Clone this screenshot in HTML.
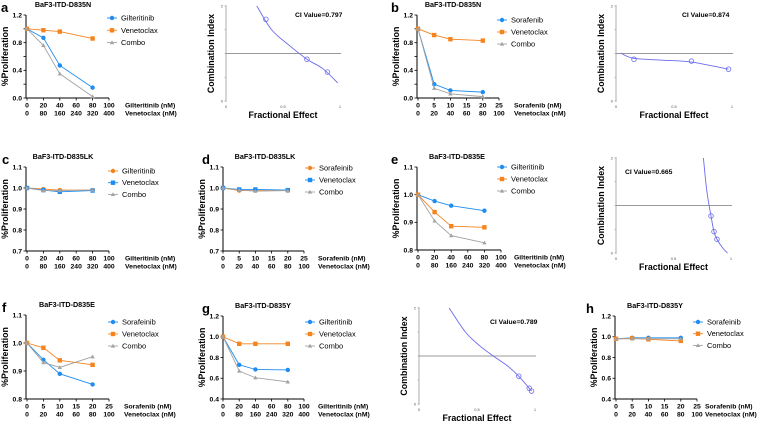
<!DOCTYPE html>
<html><head><meta charset="utf-8"><style>
html,body{margin:0;padding:0;background:#fff;}
svg{display:block;font-family:"Liberation Sans",Arial,sans-serif;}
</style></head><body>
<svg id="fig" width="757" height="424" viewBox="0 0 757 424" xmlns="http://www.w3.org/2000/svg"></svg>
<script>
// ---- data arrays ----
const dosesA=[0,20,40,80]; const gilA=[1.0,0.87,0.47,0.15]; const venA=[1.0,0.98,0.96,0.86]; const comA=[1.0,0.76,0.35,0.02];
const dosesB=[0,5,10,20]; const sorB=[1.0,0.20,0.11,0.085]; const venB=[1.0,0.91,0.85,0.83]; const comB=[1.0,0.14,0.06,0.02];
const dosesC=[0,20,40,80]; const gilC=[1.0,0.995,0.99,0.99]; const venC=[1.0,0.99,0.982,0.988]; const comC=[1.0,0.988,0.988,0.99];
const dosesD=[0,5,10,20]; const sorD=[1.0,0.988,0.988,0.988]; const venD=[1.0,0.993,0.993,0.99]; const comD=[1.0,0.99,0.985,0.988];
const dosesE=[0,20,40,80]; const gilE=[1.0,0.977,0.96,0.942]; const venE=[1.0,0.937,0.886,0.882]; const comE=[1.0,0.905,0.852,0.826];
const dosesF=[0,5,10,20]; const sorF=[1.0,0.94,0.89,0.852]; const venF=[1.0,0.983,0.938,0.922]; const comF=[1.0,0.93,0.913,0.951];
const dosesG=[0,20,40,80]; const gilG=[1.0,0.73,0.685,0.68]; const venG=[1.0,0.932,0.932,0.932]; const comG=[1.0,0.67,0.605,0.565];
const dosesH=[0,5,10,20]; const sorH=[0.98,0.99,0.99,0.99]; const venH=[0.98,0.985,0.975,0.96]; const comH=[0.98,0.98,0.98,0.98];
const ticksGil=["0","20","40","60","80","100"]; const ticksVen400=["0","80","160","240","320","400"];
const ticksSor=["0","5","10","15","20","25"]; const ticksVen100=["0","20","40","60","80","100"];
const ciFaA=[0.27,0.4,0.55,0.71,0.85,0.98]; const ciValA=[2.0,1.5,1.18,0.88,0.68,0.38];
const ptFaA=[0.35,0.71,0.89]; const ptCiA=[1.72,0.88,0.61];
const ciFaB=[0.04,0.15,0.4,0.65,0.97]; const ciValB=[1.01,0.9,0.86,0.82,0.67];
const ptFaB=[0.155,0.65,0.97]; const ptCiB=[0.88,0.84,0.67];
const ciFaE=[0.76,0.79,0.826,0.852,0.878,0.93,0.97]; const ciValE=[2.0,1.3,0.78,0.45,0.29,0.1,0.0];
const ptFaE=[0.826,0.852,0.878]; const ptCiE=[0.78,0.45,0.29];
const ciFaG=[0.26,0.4,0.52,0.64,0.76,0.86,0.97]; const ciValG=[2.0,1.5,1.22,1.0,0.8,0.58,0.27];
const ptFaG=[0.86,0.95,0.97]; const ptCiG=[0.58,0.33,0.27];

const NS="http://www.w3.org/2000/svg";
const svg=document.getElementById('fig');
const BLUE="#1e8cf0",ORANGE="#f5841f",GRAY="#a3a3a3",PURP="#6b6bee";
function el(tag,attrs,parent,txt){const e=document.createElementNS(NS,tag);for(const k in attrs)e.setAttribute(k,attrs[k]);if(txt!==undefined)e.textContent=txt;(parent||svg).appendChild(e);return e;}
function smooth(P){
  let d=`M${P[0][0]},${P[0][1]}`;
  for(let i=0;i<P.length-1;i++){
    const p0=P[Math.max(0,i-1)],p1=P[i],p2=P[i+1],p3=P[Math.min(P.length-1,i+2)];
    const c1=[p1[0]+(p2[0]-p0[0])/6,p1[1]+(p2[1]-p0[1])/6];
    const c2=[p2[0]-(p3[0]-p1[0])/6,p2[1]-(p3[1]-p1[1])/6];
    d+=` C${c1[0]},${c1[1]} ${c2[0]},${c2[1]} ${p2[0]},${p2[1]}`;
  }
  return d;
}
function marker(g,shape,x,y,c){
  let m;
  if(shape==='c') m=el('circle',{cx:x,cy:y,r:2.2,fill:c},g);
  else if(shape==='s') m=el('rect',{x:x-2.2,y:y-2.2,width:4.4,height:4.4,fill:c},g);
  else m=el('polygon',{points:`${x},${y-2.2} ${x+2.2},${y+1.6} ${x-2.2},${y+1.6}`,fill:c},g);
  
  
}
function dose(p){
  const g=el('g',{});
  
  
  const xs=v=>p.x0+(v-0)/(p.xmax)*(p.x1-p.x0);
  const ys=v=>p.yb-(v-p.ymin)/(p.ymax-p.ymin)*(p.yb-p.yt);
  const t=el('text',{x:p.lx,y:p.yt-3,'font-size':13,'font-weight':'bold'},g,p.letter);
  
  const ti=el('text',{x:p.tx,y:p.yt-8,'font-size':7.2,'font-weight':'bold','text-anchor':'middle'},g,p.title);
  
  el('line',{x1:p.ax,y1:p.yt,x2:p.ax,y2:p.yb,stroke:'#000','stroke-width':1},g);
  el('line',{x1:p.ax,y1:p.yb,x2:p.x1,y2:p.yb,stroke:'#000','stroke-width':1},g);
  for(let i=0;i<=p.nMinor;i++){const v=p.ymin+i*(p.ymax-p.ymin)/p.nMinor;const y=ys(v);
    el('line',{x1:p.ax-2.5,y1:y,x2:p.ax,y2:y,stroke:'#000','stroke-width':0.8},g);}
  p.yTicks.forEach(v=>{const tt=el('text',{x:p.ax-4,y:ys(parseFloat(v))+2.3,'font-size':6.8,'font-weight':'bold','text-anchor':'end'},g,v);
    });
  const yl=el('text',{transform:`translate(${p.ax-18},${(p.yt+p.yb)/2}) rotate(-90)`,'font-size':8.8,'font-weight':'bold','text-anchor':'middle'},g,'%Proliferation');
  
  p.xt1.forEach((s,i)=>{const x=p.x0+i*(p.x1-p.x0)/(p.xt1.length-1);
    el('line',{x1:x,y1:p.yb,x2:x,y2:p.yb+2.5,stroke:'#000','stroke-width':0.8},g);
    const a=el('text',{x:x,y:p.yb+9.5,'font-size':6.8,'font-weight':'bold','text-anchor':'middle'},g,s);
    
    const b=el('text',{x:x,y:p.yb+17.5,'font-size':6.8,'font-weight':'bold','text-anchor':'middle'},g,p.xt2[i]);
    });
  const u1=el('text',{x:p.ux,y:p.yb+9.5,'font-size':6.8,'font-weight':'bold'},g,p.u1);
  
  const u2=el('text',{x:p.ux,y:p.yb+17.5,'font-size':6.8,'font-weight':'bold'},g,p.u2);
  
  p.series.forEach((s,k)=>{
    const pts=p.doses.map((d,i)=>xs(d)+','+ys(s.v[i])).join(' ');
    const pl=el('polyline',{points:pts,fill:'none',stroke:s.c,'stroke-width':0.9},g);
    
    p.doses.forEach((d,i)=>marker(g,s.m,xs(d),ys(s.v[i]),s.c));
    const ly=p.ly+k*p.lsp;
    el('line',{x1:p.lmx-5,y1:ly,x2:p.lmx+5,y2:ly,stroke:s.c,'stroke-width':0.9},g);
    marker(g,s.m,p.lmx,ly,s.c);
    const lt=el('text',{x:p.lmx+9,y:ly+2.5,'font-size':7.5},g,s.n);
    
  });
}
function ci(p){
  const g=el('g',{});
  
  
  const xs=v=>p.x0+v*(p.x1-p.x0);
  const ys=v=>p.yb-v/2*(p.yb-p.yt);
  el('line',{x1:p.x0,y1:p.yt-1,x2:p.x0,y2:p.yb+1,stroke:'#999','stroke-width':0.8},g);
  el('line',{x1:p.x0,y1:ys(1),x2:p.x1+1,y2:ys(1),stroke:'#999','stroke-width':0.9},g);
  [2,1.5,1,0.5,0].forEach(a=>{el('line',{x1:p.x0-1.5,y1:ys(a),x2:p.x0,y2:ys(a),stroke:'#999','stroke-width':0.6},g);});
  el('text',{x:p.x0-3,y:ys(2)+1.5,'font-size':4,'text-anchor':'end',fill:'#555'},g,'2');
  el('text',{x:p.x0-3,y:ys(0)+1.5,'font-size':4,'text-anchor':'end',fill:'#555'},g,'0');
  [['0',0],['0.5',0.5],['1',1]].forEach(a=>{el('text',{x:xs(a[1]),y:p.yb+7,'font-size':4,'text-anchor':'middle',fill:'#555'},g,a[0]);});
  const P=p.fa.map((f,i)=>[xs(f),ys(p.ci[i])]);
  const cl=el('path',{d:smooth(P),fill:'none',stroke:PURP,'stroke-width':0.9},g);
  
  p.pf.forEach((f,i)=>{const c=el('circle',{cx:xs(f),cy:ys(p.pc[i]),r:2.3,fill:'none',stroke:PURP,'stroke-width':0.8},g);
    });
  const v=el('text',{x:p.vx,y:p.vy,'font-size':6.8,'font-weight':'bold'},g,p.val);
  
  const yl=el('text',{transform:`translate(${p.x0-12},${(p.yt+p.yb)/2}) rotate(-90)`,'font-size':8.8,'font-weight':'bold','text-anchor':'middle'},g,'Combination Index');
  
  const xl=el('text',{x:(p.x0+p.x1)/2,y:p.yb+17,'font-size':8.8,'font-weight':'bold','text-anchor':'middle'},g,'Fractional Effect');
  
}
const GIL=(v,c,m)=>({n:'Gilteritinib',v:v,c:c||BLUE,m:m||'c'});
const SOR=(v,c,m)=>({n:'Sorafeinib',v:v,c:c||BLUE,m:m||'c'});
const VEN=(v,c,m)=>({n:'Venetoclax',v:v,c:c||ORANGE,m:m||'s'});
const COM=v=>({n:'Combo',v:v,c:GRAY,m:'t'});
const U={g1:'Gilteritinib (nM)',s1:'Sorafenib (nM)',v:'Venetoclax (nM)'};
// row 1
dose({letter:'a',title:'BaF3-ITD-D835N',lx:1,tx:63,ax:26,x0:27,x1:109,xmax:100,yt:15,yb:98,ymin:0,ymax:1.2,nMinor:6,yTicks:['0.0','0.4','0.8','1.2'],
  xt1:ticksGil,xt2:ticksVen400,ux:125,u1:U.g1,u2:U.v,doses:dosesA,lmx:112,ly:18,lsp:12.3,
  series:[GIL(gilA),VEN(venA),COM(comA)]});
ci({x0:226,x1:340,yt:6,yb:101,fa:ciFaA,ci:ciValA,pf:ptFaA,pc:ptCiA,val:'CI Value=0.797',vx:295,vy:17});
dose({letter:'b',title:'BaF3-ITD-D835N',lx:391,tx:453,ax:417,x0:418,x1:499,xmax:25,yt:15,yb:98,ymin:0,ymax:1.2,nMinor:6,yTicks:['0.0','0.4','0.8','1.2'],
  xt1:ticksSor,xt2:ticksVen100,ux:514,u1:U.s1,u2:U.v,doses:dosesB,lmx:502,ly:20,lsp:12,
  series:[{n:'Sorafenib',v:sorB,c:BLUE,m:'c'},VEN(venB),COM(comB)]});
ci({x0:616,x1:732,yt:6,yb:101,fa:ciFaB,ci:ciValB,pf:ptFaB,pc:ptCiB,val:'CI Value=0.874',vx:682,vy:17});
// row 2
dose({letter:'c',title:'BaF3-ITD-D835LK',lx:2,tx:63,ax:26,x0:27,x1:109,xmax:100,yt:167,yb:251,ymin:0.7,ymax:1.1,nMinor:4,yTicks:['0.7','0.8','0.9','1.0','1.1'],
  xt1:ticksGil,xt2:ticksVen400,ux:125,u1:U.g1,u2:U.v,doses:dosesC,lmx:113,ly:171,lsp:11.7,
  series:[GIL(gilC,ORANGE,'c'),VEN(venC,BLUE,'s'),COM(comC)]});
dose({letter:'d',title:'BaF3-ITD-D835LK',lx:202,tx:265,ax:223,x0:223,x1:304,xmax:25,yt:167,yb:251,ymin:0.7,ymax:1.1,nMinor:4,yTicks:['0.7','0.8','0.9','1.0','1.1'],
  xt1:ticksSor,xt2:ticksVen100,ux:318,u1:U.s1,u2:U.v,doses:dosesD,lmx:310,ly:168,lsp:12,
  series:[SOR(sorD,ORANGE,'c'),VEN(venD,BLUE,'s'),COM(comD)]});
dose({letter:'e',title:'BaF3-ITD-D835E',lx:391,tx:457,ax:417,x0:418,x1:501,xmax:100,yt:167,yb:250,ymin:0.8,ymax:1.1,nMinor:3,yTicks:['0.8','0.9','1.0','1.1'],
  xt1:ticksGil,xt2:ticksVen400,ux:514,u1:U.g1,u2:U.v,doses:dosesE,lmx:502,ly:167,lsp:12,
  series:[GIL(gilE),VEN(venE),COM(comE)]});
ci({x0:616,x1:731,yt:158,yb:253,fa:ciFaE,ci:ciValE,pf:ptFaE,pc:ptCiE,val:'CI Value=0.665',vx:625,vy:174});
// row 3
dose({letter:'f',title:'BaF3-ITD-D835E',lx:2,tx:67,ax:26,x0:27,x1:109,xmax:25,yt:315,yb:399,ymin:0.8,ymax:1.1,nMinor:3,yTicks:['0.8','0.9','1.0','1.1'],
  xt1:ticksSor,xt2:ticksVen100,ux:124,u1:U.s1,u2:U.v,doses:dosesF,lmx:113,ly:322,lsp:12,
  series:[SOR(sorF),VEN(venF),COM(comF)]});
dose({letter:'g',title:'BaF3-ITD-D835Y',lx:202,tx:263,ax:223,x0:223,x1:304,xmax:100,yt:316,yb:399,ymin:0.4,ymax:1.2,nMinor:4,yTicks:['0.4','0.6','0.8','1.0','1.2'],
  xt1:ticksGil,xt2:ticksVen400,ux:318,u1:U.g1,u2:U.v,doses:dosesG,lmx:310,ly:322,lsp:12,
  series:[GIL(gilG),VEN(venG),COM(comG)]});
ci({x0:419,x1:535,yt:308,yb:404,fa:ciFaG,ci:ciValG,pf:ptFaG,pc:ptCiG,val:'CI Value=0.789',vx:490,vy:324});
dose({letter:'h',title:'BaF3-ITD-D835Y',lx:586,tx:655,ax:615,x0:616,x1:697,xmax:25,yt:316,yb:399,ymin:0.4,ymax:1.2,nMinor:4,yTicks:['0.4','0.6','0.8','1.0','1.2'],
  xt1:ticksSor,xt2:ticksVen100,ux:705,u1:U.s1,u2:U.v,doses:dosesH,lmx:698,ly:322,lsp:11.7,
  series:[SOR(sorH),VEN(venH),COM(comH)]});
</script>
</body></html>
